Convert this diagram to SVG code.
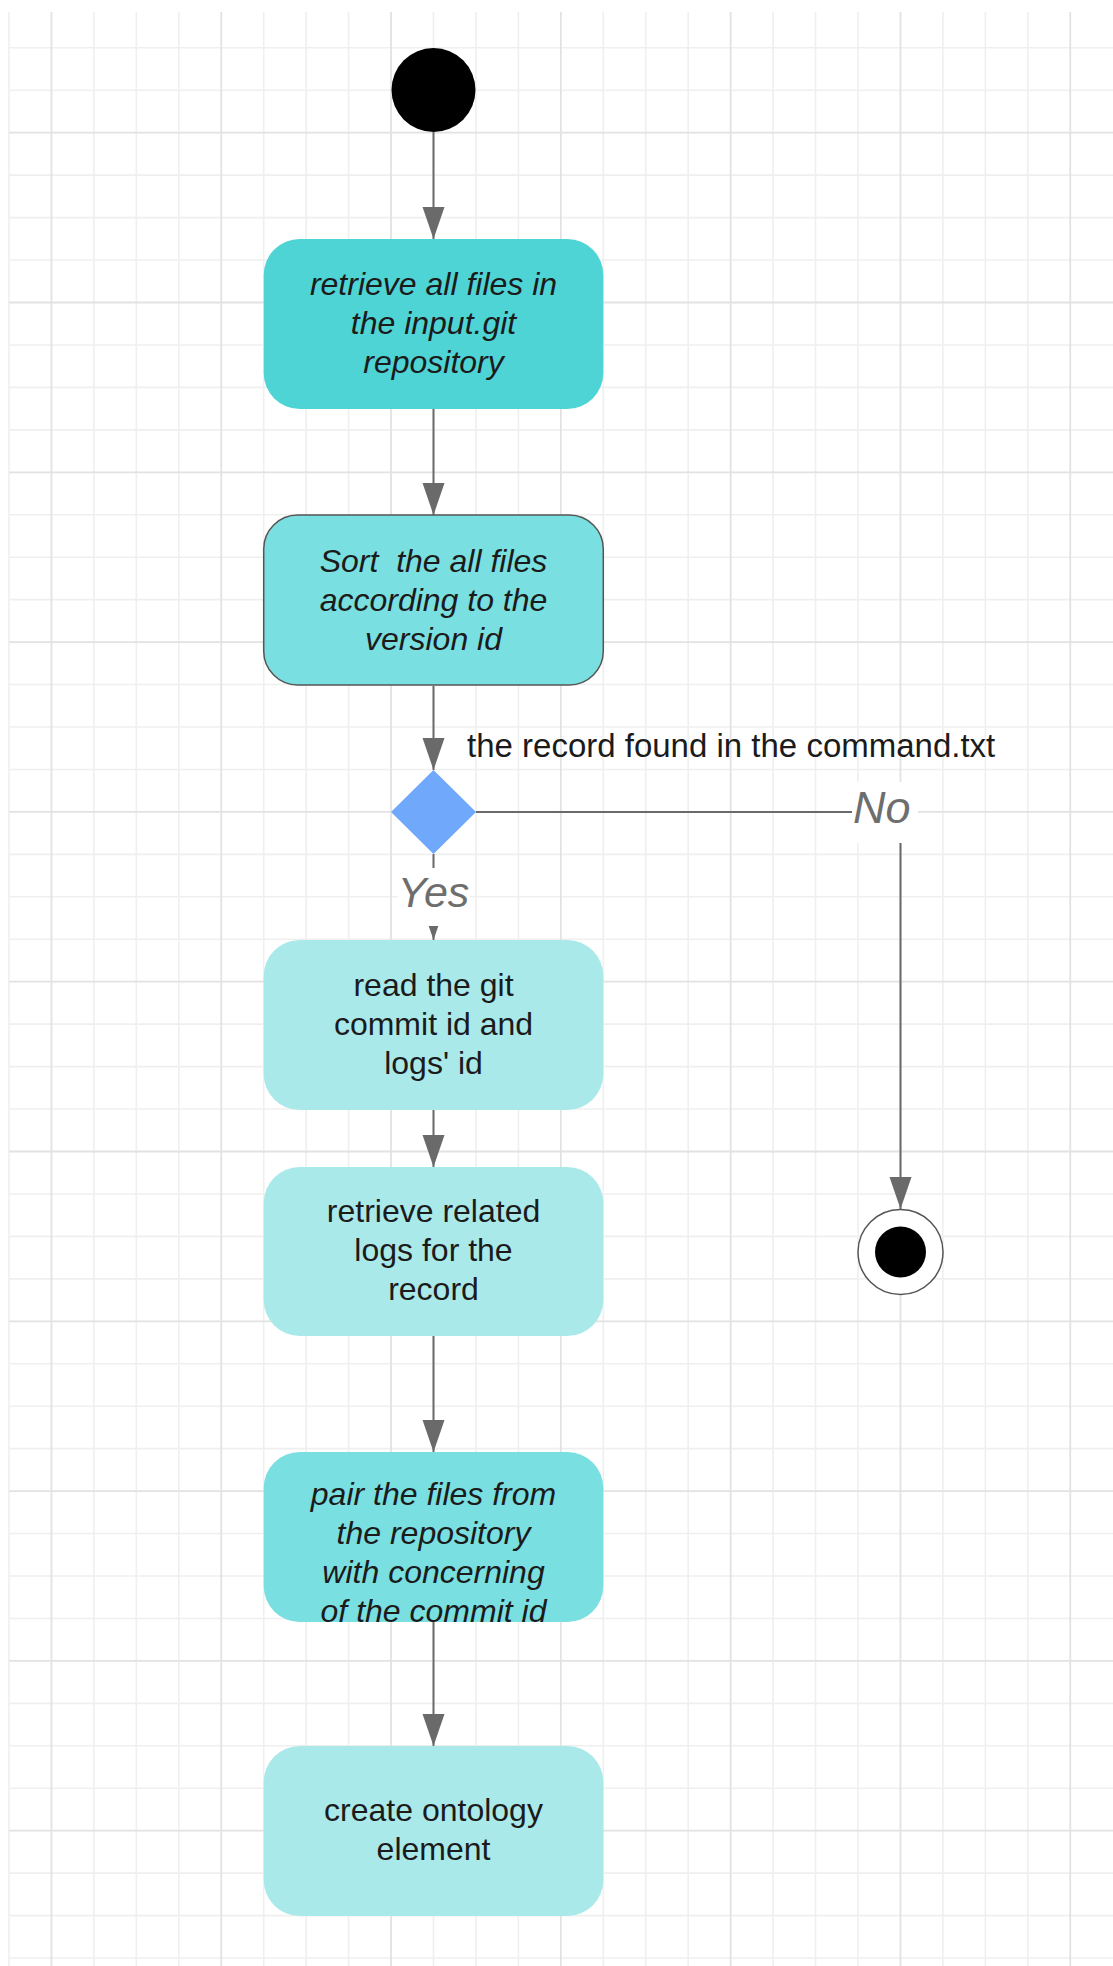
<svg xmlns="http://www.w3.org/2000/svg" width="1113" height="1966" viewBox="0 0 1113 1966">
<style>
.gmin{stroke:#efefef;stroke-width:1.6;fill:none}
.gmaj{stroke:#e2e2e2;stroke-width:1.8;fill:none}
.conn{stroke:#6a6a6a;stroke-width:2;fill:none}
.t{font-family:"Liberation Sans",Arial,sans-serif;font-size:32px;fill:#1b1b1b;text-anchor:middle}
.it{font-style:italic}
.lbl{font-family:"Liberation Sans",Arial,sans-serif;font-style:italic;font-size:43px;fill:#6e6e6e}
.cond{font-family:"Liberation Sans",Arial,sans-serif;font-size:33px;fill:#1b1b1b}
.b1{fill:#4fd4d6}
.b2{fill:#7adfe0;stroke:#555;stroke-width:1.5}
.b3{fill:#aae9ea}
.b5{fill:#7adfe0}
</style>
<defs>
<marker id="ah" markerUnits="userSpaceOnUse" markerWidth="34" markerHeight="24" refX="32" refY="11" orient="auto">
<path d="M0,0 L32,11 L0,22 z" fill="#6a6a6a"/>
</marker>
</defs>
<rect width="1113" height="1966" fill="#ffffff"/>
<g id="grid">
<path class="gmin" d="M9 12V1966M93.9 12V1966M136.35 12V1966M178.8 12V1966M263.7 12V1966M306.15 12V1966M348.6 12V1966M433.5 12V1966M475.95 12V1966M518.4 12V1966M603.3 12V1966M645.75 12V1966M688.2 12V1966M773.1 12V1966M815.55 12V1966M858 12V1966M942.9 12V1966M985.35 12V1966M1027.8 12V1966"/>
<path class="gmin" d="M9 47.8H1113M9 90.25H1113M9 175.15H1113M9 217.6H1113M9 260.05H1113M9 344.95H1113M9 387.4H1113M9 429.85H1113M9 514.75H1113M9 557.2H1113M9 599.65H1113M9 684.55H1113M9 727H1113M9 769.45H1113M9 854.35H1113M9 896.8H1113M9 939.25H1113M9 1024.15H1113M9 1066.6H1113M9 1109.05H1113M9 1193.95H1113M9 1236.4H1113M9 1278.85H1113M9 1363.75H1113M9 1406.2H1113M9 1448.65H1113M9 1533.55H1113M9 1576H1113M9 1618.45H1113M9 1703.35H1113M9 1745.8H1113M9 1788.25H1113M9 1873.15H1113M9 1915.6H1113M9 1958.05H1113"/>
<path class="gmaj" d="M51.45 12V1966M221.25 12V1966M391.05 12V1966M560.85 12V1966M730.65 12V1966M900.45 12V1966M1070.25 12V1966"/>
<path class="gmaj" d="M9 132.7H1113M9 302.5H1113M9 472.3H1113M9 642.1H1113M9 811.9H1113M9 981.7H1113M9 1151.5H1113M9 1321.3H1113M9 1491.1H1113M9 1660.9H1113M9 1830.7H1113"/>
</g>
<g id="connectors">
<line class="conn" x1="433.5" y1="132" x2="433.5" y2="239" marker-end="url(#ah)"/>
<line class="conn" x1="433.5" y1="409" x2="433.5" y2="515" marker-end="url(#ah)"/>
<line class="conn" x1="433.5" y1="686" x2="433.5" y2="770" marker-end="url(#ah)"/>
<polyline class="conn" points="476,812 900.5,812 900.5,1209" marker-end="url(#ah)"/>
<line class="conn" x1="433.5" y1="854" x2="433.5" y2="940" marker-end="url(#ah)"/>
<line class="conn" x1="433.5" y1="1110" x2="433.5" y2="1167" marker-end="url(#ah)"/>
<line class="conn" x1="433.5" y1="1336" x2="433.5" y2="1452" marker-end="url(#ah)"/>
<line class="conn" x1="433.5" y1="1622" x2="433.5" y2="1746" marker-end="url(#ah)"/>
<rect x="398" y="868" width="72" height="58" fill="#ffffff"/>
<rect x="852" y="782" width="66" height="61" fill="#ffffff"/>
<text class="lbl" x="433.5" y="907" text-anchor="middle">Yes</text>
<text class="lbl" x="853" y="823" style="font-size:45px">No</text>
<text class="cond" x="467" y="757">the record found in the command.txt</text>
</g>
<g id="start">
<circle cx="433.5" cy="90" r="42" fill="#000"/>
</g>
<g id="n1">
<rect class="b1" x="263.7" y="239" width="339.6" height="170" rx="36"/>
<text class="t it"><tspan x="433.5" y="295">retrieve all files in</tspan><tspan x="433.5" y="334">the input.git</tspan><tspan x="433.5" y="373">repository</tspan></text>
</g>
<g id="n2">
<rect class="b2" x="263.7" y="515" width="339.6" height="170" rx="34"/>
<text class="t it" xml:space="preserve"><tspan x="433.5" y="572">Sort  the all files</tspan><tspan x="433.5" y="611">according to the</tspan><tspan x="433.5" y="650">version id</tspan></text>
</g>
<g id="decision">
<polygon points="433.5,770 476,812 433.5,854 391,812" fill="#70a9fb"/>
</g>
<g id="n3">
<rect class="b3" x="263.7" y="940" width="339.6" height="170" rx="36"/>
<text class="t"><tspan x="433.5" y="996">read the git</tspan><tspan x="433.5" y="1035">commit id and</tspan><tspan x="433.5" y="1074">logs' id</tspan></text>
</g>
<g id="n4">
<rect class="b3" x="263.7" y="1167" width="339.6" height="169" rx="36"/>
<text class="t"><tspan x="433.5" y="1222">retrieve related</tspan><tspan x="433.5" y="1261">logs for the</tspan><tspan x="433.5" y="1300">record</tspan></text>
</g>
<g id="end">
<circle cx="900.5" cy="1252" r="42.5" fill="#fff" stroke="#555" stroke-width="1.5"/>
<circle cx="900.5" cy="1252" r="25.5" fill="#000"/>
</g>
<g id="n5">
<rect class="b5" x="263.7" y="1452" width="339.6" height="170" rx="36"/>
<text class="t it"><tspan x="433.5" y="1505">pair the files from</tspan><tspan x="433.5" y="1544">the repository</tspan><tspan x="433.5" y="1583">with concerning</tspan><tspan x="433.5" y="1622">of the commit id</tspan></text>
</g>
<g id="n6">
<rect class="b3" x="263.7" y="1746" width="339.6" height="170" rx="36"/>
<text class="t"><tspan x="433.5" y="1821">create ontology</tspan><tspan x="433.5" y="1860">element</tspan></text>
</g>
</svg>
